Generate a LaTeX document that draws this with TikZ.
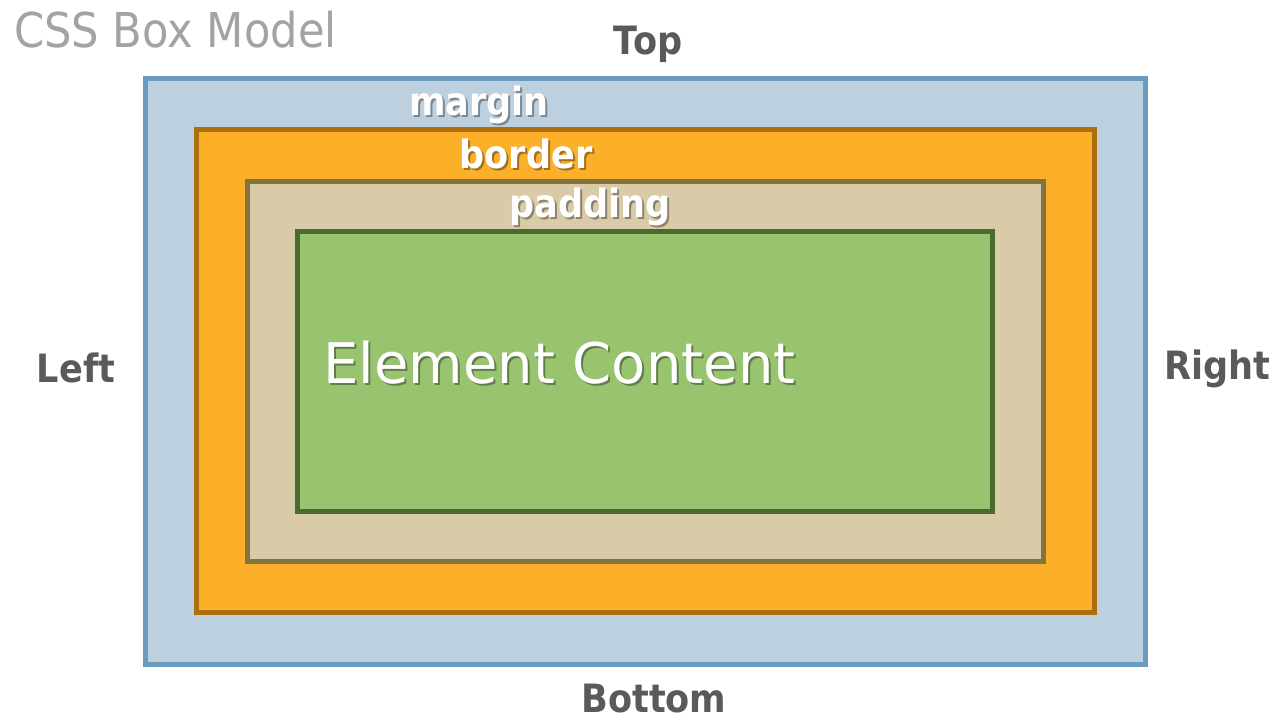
\documentclass[tikz,border=0pt]{standalone}
\usepackage{fontspec}
\setmainfont{DejaVu Sans}
\newfontfamily\narrowfont{DejaVu Sans}[FakeStretch=0.9]
\usetikzlibrary{calc}

\definecolor{marginfill}{HTML}{BDD0DF}
\definecolor{marginline}{HTML}{6C9BC0}
\definecolor{borderfill}{HTML}{FCAF29}
\definecolor{borderline}{HTML}{AD6E0C}
\definecolor{paddingfill}{HTML}{D9CAA8}
\definecolor{paddingline}{HTML}{83733F}
\definecolor{contentfill}{HTML}{98C36F}
\definecolor{contentline}{HTML}{4A6A2E}
\definecolor{sidegray}{HTML}{5A5A5A}
\definecolor{titlegray}{HTML}{A3A3A3}

\tikzset{
  boxline/.style={line width=5},
  side/.style={text=sidegray, inner sep=0, anchor=base,
    font=\narrowfont\fontsize{39}{44}\selectfont\bfseries},
  layer/.style={text=white, inner sep=0, anchor=base,
    font=\narrowfont\fontsize{39}{44}\selectfont\bfseries},
  shadowcopy/.style={text=black, opacity=.35, xshift=2, yshift=-2}
}

\begin{document}
\begin{tikzpicture}[x=1pt, y=-1pt]
\useasboundingbox[fill=white] (0,0) rectangle (1277,721);
% nested boxes, outside in
\foreach \fc/\lc/\xa/\ya/\xb/\yb in {
  marginfill/marginline/145/78/1145/664,
  borderfill/borderline/196/129/1094/612,
  paddingfill/paddingline/247/181/1043/561,
  contentfill/contentline/297/231/992/511} {
  \draw[boxline, draw=\lc, fill=\fc] (\xa,\ya) rectangle (\xb,\yb);
}
\node[anchor=base west, inner sep=0, text=titlegray, font=\narrowfont\fontsize{48}{53}\selectfont] (title) at (14,47) {CSS Box Model};
% sides
\node[side] (top) at (648,54) {Top};
\node[side] (left) at (76,382) {Left};
\node[side] (right) at (1217,379) {Right};
\node[side] (bottom) at (654,712) {Bottom};
% layer names, shadow first
\foreach \x/\y/\t in {479/115/margin, 526/168/border, 590/217/padding} {
  \node[layer, shadowcopy] at (\x,\y) {\t};
}
\node[layer] (margintxt) at (479,115) {margin};
\node[layer] (bordertxt) at (526,168) {border};
\node[layer] (paddingtxt) at (590,217) {padding};
\node[anchor=base west, inner sep=0, text=black, opacity=.35, xshift=2, yshift=-2, font=\fontsize{56}{60}\selectfont] at (323,383) {Element Content};
\node[anchor=base west, inner sep=0, text=white, font=\fontsize{56}{60}\selectfont] (content) at (323,383) {Element Content};
\end{tikzpicture}
\end{document}
